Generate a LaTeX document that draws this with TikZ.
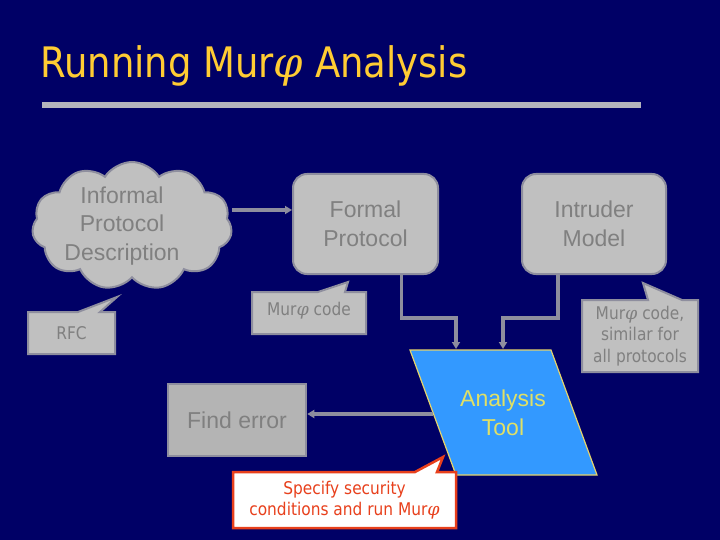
\documentclass[tikz,border=0pt]{standalone}
\usepackage{fontspec}
\setmainfont{Liberation Sans}
\newfontfamily\tahoma[FakeStretch=0.88]{DejaVu Sans}
\newfontfamily\phifont{DejaVu Serif}
\usetikzlibrary{shapes.symbols,arrows.meta}
\definecolor{bg}{HTML}{000066}
\definecolor{boxgray}{HTML}{C0C0C0}
\definecolor{findgray}{HTML}{B4B4B4}
\definecolor{txtgray}{HTML}{808080}
\definecolor{edgegray}{HTML}{8E8E9E}
\definecolor{bargray}{HTML}{B4B4BC}
\definecolor{titleyellow}{HTML}{FFCC33}
\definecolor{toolblue}{HTML}{3399FF}
\definecolor{tooledge}{HTML}{E6D36A}
\definecolor{tooltext}{HTML}{E0E066}
\definecolor{calred}{HTML}{E8401C}
\newcommand{\murphi}{Mur{\phifont\itshape φ}}
\begin{document}
\begin{tikzpicture}[x=1pt,y=-1pt,
  graybox/.style={fill=boxgray,draw=edgegray,line width=2pt},
  bigtext/.style={text=txtgray,font=\fontsize{23}{28.5}\selectfont,align=center},
  calltext/.style={text=txtgray,font=\tahoma\fontsize{17.5}{21.5}\selectfont,align=center},
  conn/.style={draw=edgegray,line width=3.5pt},
  tip/.style={-{Triangle[length=7pt,width=8pt]}}]
\useasboundingbox (0,0) rectangle (720,540);
\fill[bg] (0,0) rectangle (720,540);
% title
\node[anchor=base west,inner sep=0,text=titleyellow,font=\tahoma\fontsize{42}{48}\selectfont] (title) at (40,78) {Running \murphi\ Analysis};
\fill[bargray] (42,102) rectangle (641,108);
% cloud
\node[cloud,cloud puffs=11,cloud puff arc=115,aspect=1.55,minimum width=200pt,minimum height=128pt,
  fill=boxgray,draw=edgegray,line width=2pt,bigtext,inner sep=0] (cloud) at (132,226) {};
\node[bigtext] (cloudtxt) at (122,226) {Informal\\Protocol\\Description};
% boxes
\node[graybox,rounded corners=14pt,minimum width=145pt,minimum height=100pt,bigtext] (formal) at (365.5,224) {Formal\\Protocol};
\node[graybox,rounded corners=14pt,minimum width=144pt,minimum height=100pt,bigtext] (intruder) at (594,224) {Intruder\\Model};
\node[fill=findgray,draw=edgegray,line width=2.5pt,minimum width=138pt,minimum height=72pt,bigtext] (find) at (237,420) {Find error};
% analysis tool
\coordinate (tTL) at (410,350);
\coordinate (tTR) at (551,350);
\coordinate (tBR) at (597,475);
\coordinate (tBL) at (456,475);
\draw[fill=toolblue,draw=tooledge,line width=1.2pt] (tTL) -- (tTR) -- (tBR) -- (tBL) -- cycle;
\node[text=tooltext,font=\fontsize{23}{28.5}\selectfont,align=center] (tool) at (503,413) {Analysis\\Tool};
\coordinate (in1) at (456,349);
\coordinate (in2) at (503,349);
\coordinate (toolL) at (433,414);
% connectors
\coordinate (a1) at ([yshift=14pt]formal.west);
\draw[conn,tip] (cloud.east |- a1) -- (a1);
\draw[conn,tip] ([xshift=36pt]formal.south) -- ++(0,43) -| (in1);
\draw[conn,tip] ([xshift=-36pt]intruder.south) -- ++(0,43) -| (in2);
\draw[conn,tip] (toolL) -- (toolL -| find.east);
% callouts
\draw[graybox] (28,312) -- (78,312) -- (117,297) -- (100,312) -- (115,312) -- (115,354) -- (28,354) -- cycle;
\node[calltext] (rfc) at (71.5,333) {RFC};
\draw[graybox] (252,292) -- (318,292) -- (348,282) -- (345,292) -- (366,292) -- (366,334) -- (252,334) -- cycle;
\node[calltext] (c1) at (309,311) {\murphi\ code};
\draw[graybox] (582,300) -- (648,300) -- (643,283) -- (682,300) -- (698,300) -- (698,372) -- (582,372) -- cycle;
\node[calltext] (c2) at (640,336) {\murphi\ code,\\similar for\\all protocols};
\draw[fill=white,draw=calred,line width=2.5pt] (233,472) -- (415,472) -- (443,457) -- (437,472) -- (456,472) -- (456,528) -- (233,528) -- cycle;
\node[calltext,text=calred] (c3) at (344.5,500) {Specify security\\conditions and run \murphi};
\end{tikzpicture}
\end{document}
